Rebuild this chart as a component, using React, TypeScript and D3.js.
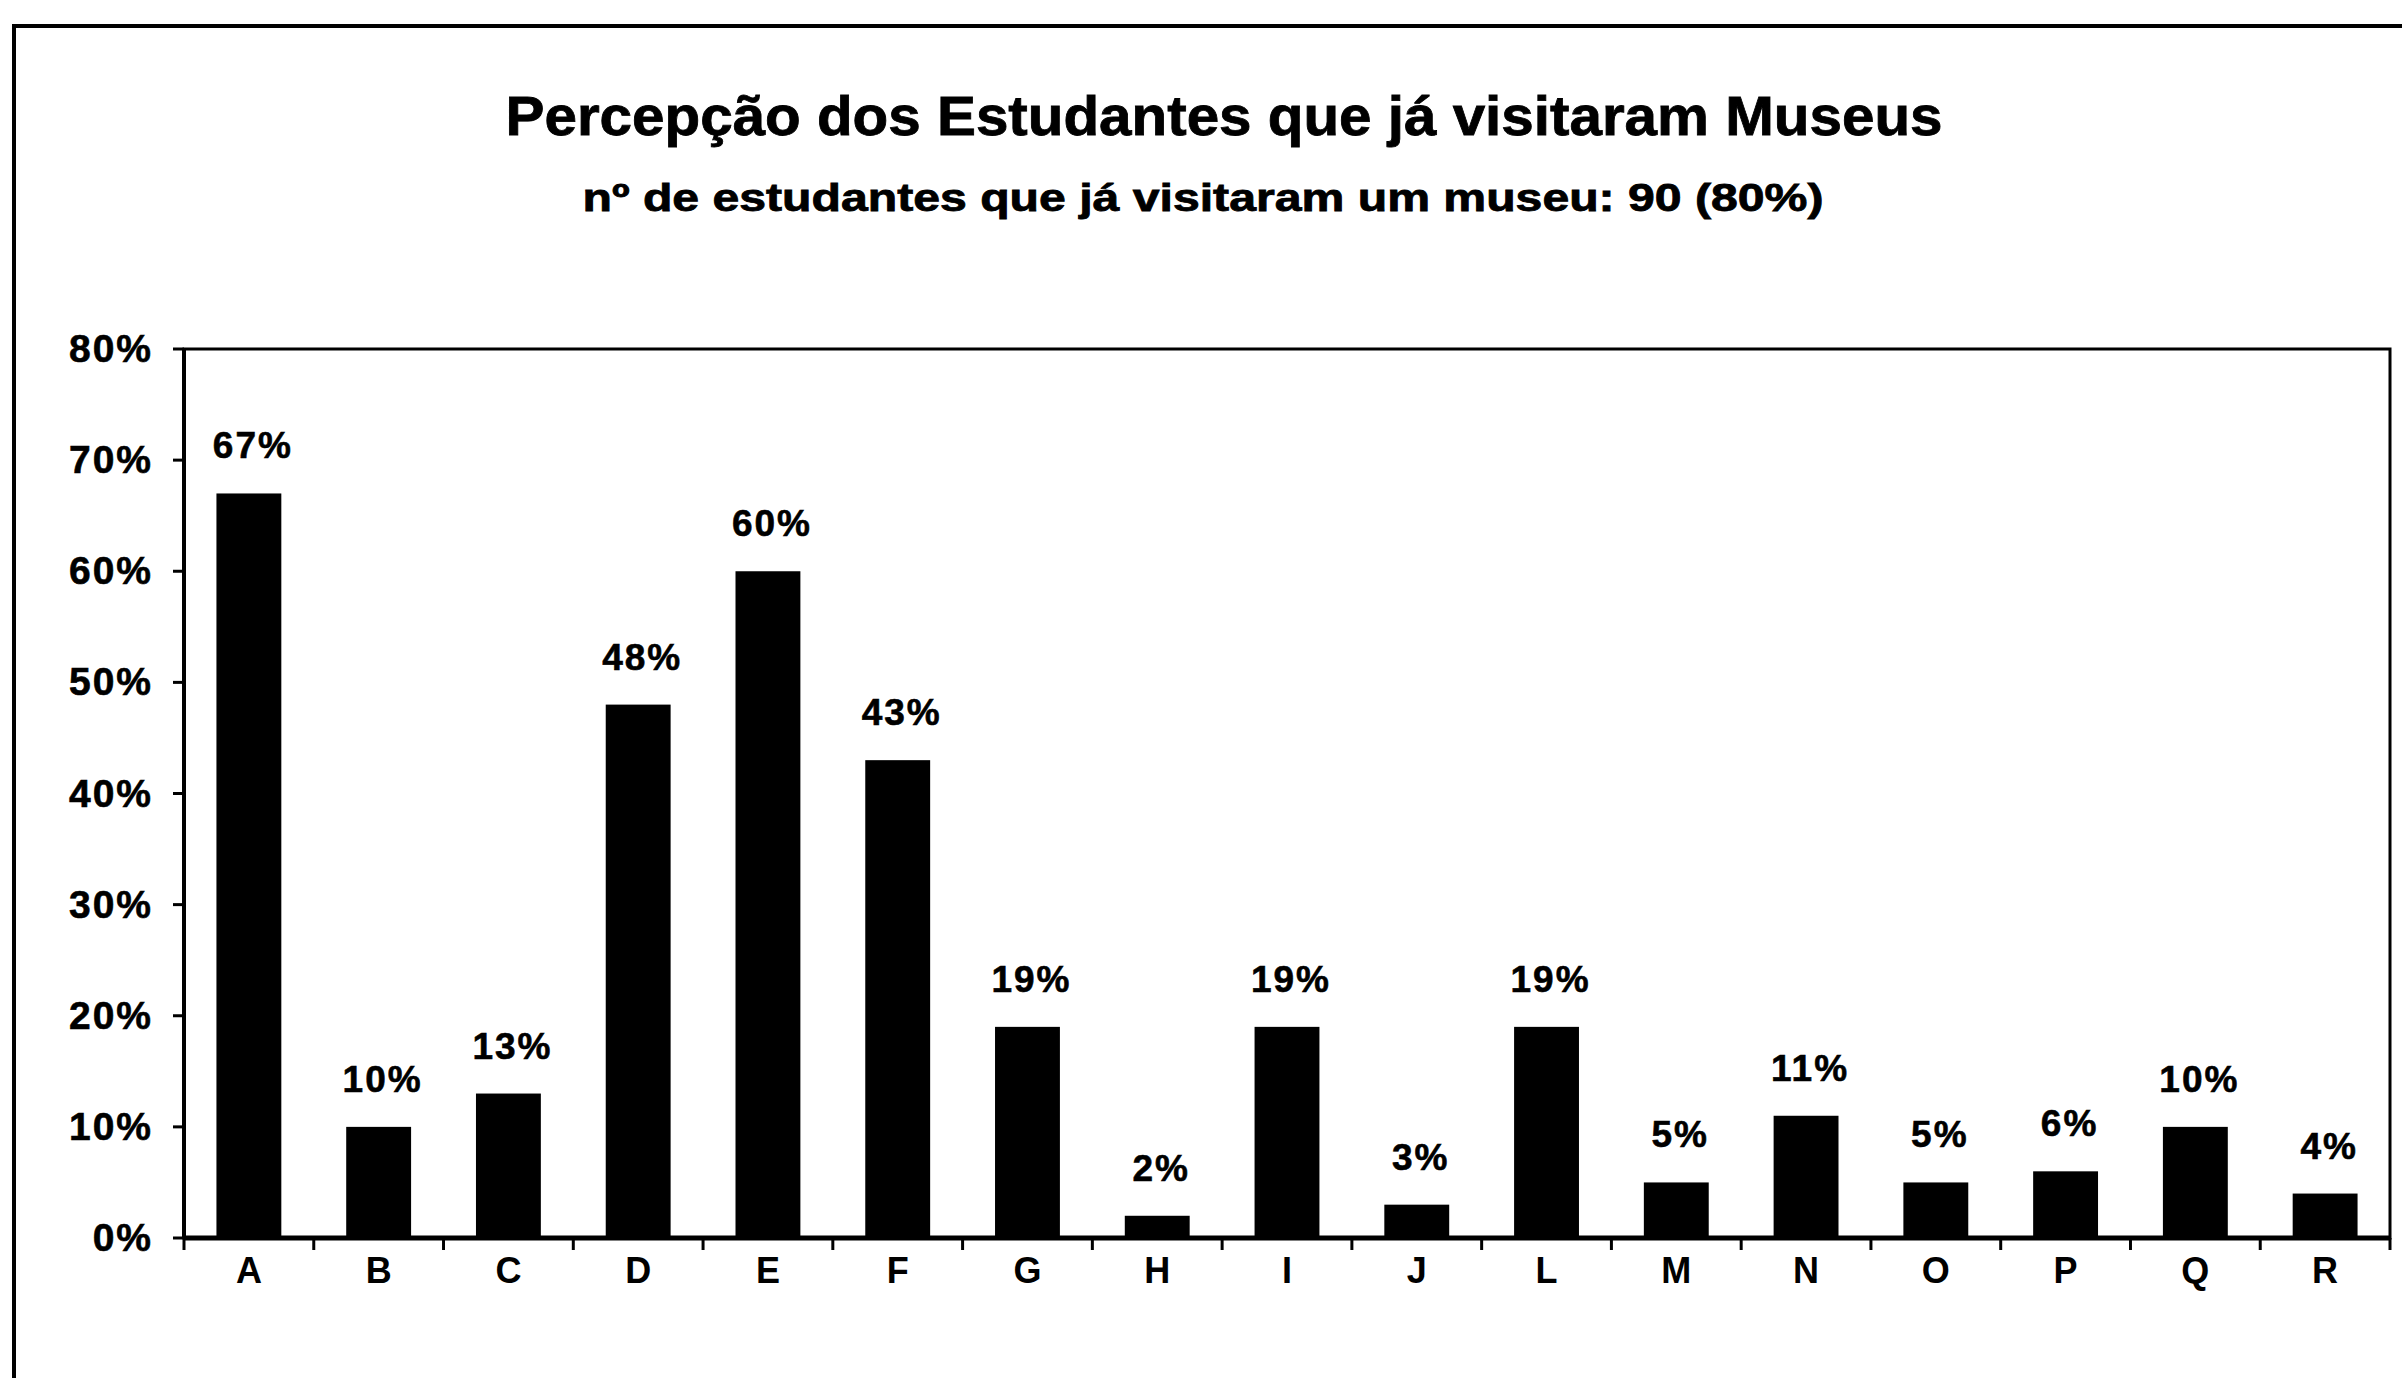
import React from "react";
import * as d3 from "d3";

const categories = ["A","B","C","D","E","F","G","H","I","J","L","M","N","O","P","Q","R"];
const values = [67,10,13,48,60,43,19,2,19,3,19,5,11,5,6,10,4];
const yTicks = [0,10,20,30,40,50,60,70,80];
const title = "Percepção dos Estudantes que já visitaram Museus";
const subtitle = "nº de estudantes que já visitaram um museu: 90 (80%)";

const W = 2402, H = 1378;
const plot = { left: 184, top: 349, right: 2390, bottom: 1238 };
const FONT = "'Liberation Sans', Arial, Helvetica, sans-serif";

export default function App() {
  const x = d3.scaleBand<string>().domain(categories).range([plot.left, plot.right]).paddingInner(0.5).paddingOuter(0.25);
  const y = d3.scaleLinear().domain([0, 80]).range([plot.bottom, plot.top]);
  const step = x.step();
  const bw = x.bandwidth();
  const boundaries = d3.range(categories.length + 1).map(i => plot.left + i * step);

  return (
    <svg width={W} height={H} style={{ position: "absolute", left: 0, top: 0, background: "#fff" }} fontFamily={FONT}>
      <rect x={0} y={0} width={W} height={H} fill="#fff" />
      {/* outer frame */}
      <path d={`M14,${H} L14,26 L${W},26`} fill="none" stroke="#000" strokeWidth={4} />
      {/* titles */}
      <text x={1224} y={135} textAnchor="middle" fontSize={55} fontWeight="bold" textLength={1437} lengthAdjust="spacingAndGlyphs" stroke="#000" strokeWidth={0.8}>{title}</text>
      <text x={1203} y={211} textAnchor="middle" fontSize={38} fontWeight="bold" textLength={1241} lengthAdjust="spacingAndGlyphs" stroke="#000" strokeWidth={0.8}>{subtitle}</text>
      {/* plot border */}
      <rect x={plot.left} y={plot.top} width={plot.right - plot.left} height={plot.bottom - plot.top} fill="none" stroke="#000" strokeWidth={3} />
      {/* bars */}
      {categories.map((c, i) => (
        <rect key={c} x={x(c)} y={y(values[i])} width={bw} height={plot.bottom - y(values[i])} fill="#000" />
      ))}
      {/* value labels */}
      {categories.map((c, i) => (
        <text key={"v" + c} x={(x(c) as number) + bw / 2 + 4} y={y(values[i]) - 35} textAnchor="middle" fontSize={37} fontWeight="bold" letterSpacing={2} stroke="#000" strokeWidth={0.6}>{values[i] + "%"}</text>
      ))}
      {/* x axis */}
      <line x1={plot.left} x2={plot.right} y1={plot.bottom} y2={plot.bottom} stroke="#000" strokeWidth={5} />
      {boundaries.map((bx, i) => (
        <line key={"xt" + i} x1={bx} x2={bx} y1={plot.bottom} y2={plot.bottom + 12} stroke="#000" strokeWidth={3} />
      ))}
      {categories.map(c => (
        <text key={"xl" + c} x={(x(c) as number) + bw / 2} y={1283} textAnchor="middle" fontSize={36} fontWeight="bold">{c}</text>
      ))}
      {/* y axis */}
      <line x1={plot.left} x2={plot.left} y1={plot.top} y2={plot.bottom} stroke="#000" strokeWidth={4} />
      {yTicks.map(t => (
        <g key={"yt" + t}>
          <line x1={plot.left - 11} x2={plot.left} y1={y(t)} y2={y(t)} stroke="#000" strokeWidth={3} />
          <text x={153} y={y(t) + 13} textAnchor="end" fontSize={39} fontWeight="bold" letterSpacing={2} stroke="#000" strokeWidth={0.6}>{t + "%"}</text>
        </g>
      ))}
    </svg>
  );
}
